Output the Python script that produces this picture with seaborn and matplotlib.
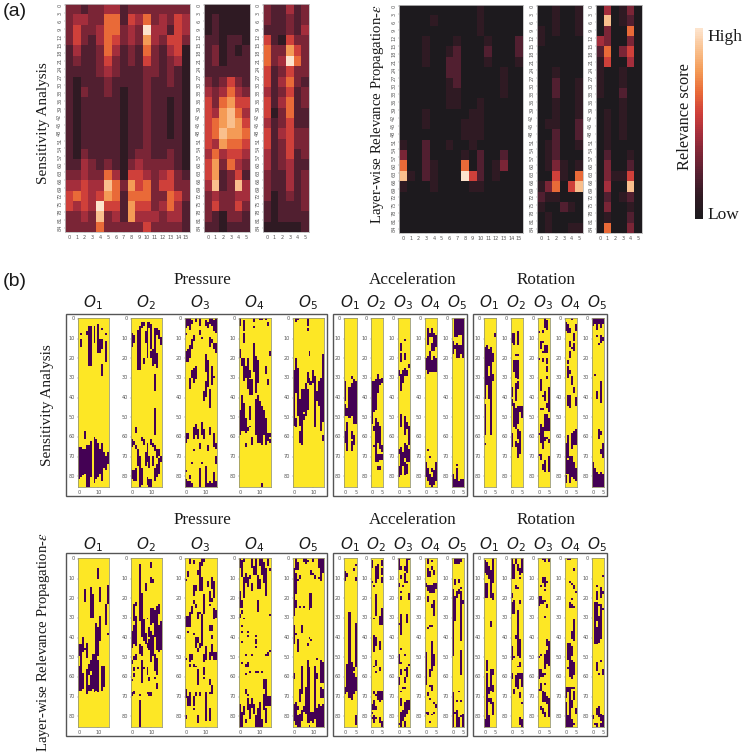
import numpy as np
import matplotlib
matplotlib.use('Agg')
import matplotlib.pyplot as plt
import seaborn as sns
from matplotlib.colors import LinearSegmentedColormap, ListedColormap
from matplotlib.patches import Rectangle

# (a) relevance heatmaps, one string per 4 sensor rows, one digit per channel (0 = low, 9 = high)
sa_pressure = ["3323344233333333", "3443366254634354", "3533466343944254", "3532465343743553",
               "2422364232632451", "2322353232532341", "2222343222332321", "2122232222322321",
               "2132232122322221", "2122222122322121", "2122222122322121", "2122222122322121",
               "2122222122322121", "2122222122322221", "2132222123322321", "2243232134333321",
               "3343364155434532", "4454486375635533", "5654576266633653", "5454955275534642",
               "3343834274443442", "3333633333533332"]
sa_accel = ["111111", "121111", "121111", "221221", "231212", "231222", "222222", "323532",
            "434643", "536755", "547864", "567875", "568776", "547665", "464554", "573643",
            "572352", "482384", "343344", "353353", "321332", "221222"]
sa_rotation = ["322423", "322323", "222324", "521533", "633753", "634963", "523533", "524632",
               "423523", "524623", "513622", "423522", "524533", "523533", "423523", "423422",
               "322423", "322423", "312323", "212223", "212222", "111112"]
lrp_pressure = ["0000000000100000", "0000100000100000", "0000000000100000", "0001000100010002",
                "0001001200020002", "0001002200010001", "0000002200000100", "0000001200000100",
                "0000001100000100", "0000001100100000", "0001000001100000", "0001000011100000",
                "0000000011100000", "1002001001000000", "3002000010200200", "6002100060201300",
                "8102100095201000", "1000100001100000", "0000000000000000", "0000000000000000",
                "0000000000000000", "0000000000000000"]
lrp_accel = ["001001", "001001", "101001", "100000", "000000", "000000", "001000", "002001",
             "002001", "001001", "001001", "011002", "002002", "012001", "012000", "013101",
             "005106", "136058", "211000", "100210", "010000", "010011"]
lrp_rotation = ["040130", "080120", "030060", "430030", "260350", "150040", "100100", "100100",
                "100200", "000100", "010100", "010100", "010100", "010000", "020010", "030020",
                "031150", "040080", "020120", "030010", "010020", "060030"]

# (b) binarised relevance, purple runs as (channel, first row, last row)
sa_p1 = [(1, 11, 14), (1, 8, 8), (4, 7, 8), (5, 4, 24), (6, 4, 24), (8, 4, 12), (10, 3, 17), (11, 11, 17), (12, 11, 15),
         (12, 5, 5), (12, 24, 29), (14, 8, 8), (14, 12, 22), (0, 67, 83), (1, 67, 82), (2, 68, 81), (3, 59, 62), (3, 68, 80),
         (4, 66, 87), (5, 66, 87), (6, 64, 82), (8, 62, 85), (9, 63, 83), (10, 65, 82), (11, 68, 80), (12, 65, 84),
         (13, 70, 77), (14, 72, 78), (15, 70, 75)]
sa_p2 = [(0, 8, 14), (1, 9, 12), (3, 6, 26), (4, 4, 26), (5, 2, 4), (6, 2, 3), (6, 21, 23), (7, 7, 12), (8, 2, 20), (9, 2, 4),
         (10, 3, 15), (10, 17, 20), (11, 16, 24), (12, 5, 23), (13, 5, 8), (13, 18, 25), (14, 6, 10), (15, 10, 13), (12, 29, 37),
         (12, 47, 60), (2, 57, 59), (0, 63, 66), (1, 64, 65), (2, 66, 67), (0, 79, 83), (1, 79, 84), (2, 78, 84), (3, 68, 76),
         (4, 72, 87), (5, 62, 63), (5, 78, 86), (6, 63, 65), (7, 70, 76), (8, 65, 74), (8, 83, 86), (9, 72, 77), (9, 84, 87),
         (10, 63, 65), (10, 84, 87), (11, 65, 66), (11, 72, 76), (12, 66, 68), (12, 78, 84), (13, 68, 72), (13, 76, 82),
         (14, 68, 71), (14, 73, 80), (15, 72, 74)]
sa_p3 = [(0, 0, 4), (1, 0, 3), (2, 0, 5), (3, 1, 2), (5, 0, 1), (7, 0, 3), (10, 1, 3), (11, 2, 4), (12, 0, 2), (13, 0, 3), (14, 1, 6),
         (15, 0, 7), (7, 6, 8), (0, 8, 8), (4, 9, 11), (3, 11, 15), (2, 14, 20), (1, 16, 22), (0, 17, 22), (8, 10, 10), (12, 10, 14),
         (13, 11, 12), (15, 13, 17), (14, 13, 15), (10, 19, 27), (11, 22, 28), (13, 25, 34), (14, 30, 30), (5, 25, 31), (4, 26, 33),
         (3, 27, 30), (2, 31, 36), (11, 27, 35), (10, 33, 40), (9, 38, 42), (12, 37, 46), (0, 60, 64), (1, 60, 62), (4, 57, 62),
         (5, 55, 60), (6, 58, 62), (8, 54, 60), (9, 58, 62), (12, 57, 60), (14, 60, 66), (4, 68, 68), (7, 65, 67), (11, 66, 68),
         (15, 65, 67), (15, 72, 75), (3, 75, 75), (8, 75, 75), (2, 82, 83), (0, 84, 87), (1, 85, 87), (2, 85, 87), (3, 86, 87),
         (7, 78, 87), (10, 77, 87), (11, 86, 87), (12, 85, 87), (13, 86, 87), (14, 80, 87), (15, 85, 87), (0, 79, 79)]
sa_p4 = [(0, 0, 3), (2, 1, 6), (7, 0, 1), (10, 0, 0), (11, 0, 0), (13, 0, 0), (14, 2, 3), (7, 4, 4), (2, 8, 12), (0, 16, 20), (1, 21, 24),
         (7, 13, 27), (8, 20, 38), (9, 22, 33), (13, 25, 28), (15, 17, 19), (4, 21, 32), (5, 27, 30), (5, 32, 39), (6, 32, 39), (3, 25, 30),
         (2, 21, 32), (1, 40, 58), (2, 44, 58), (4, 33, 36), (0, 48, 60), (5, 46, 52), (3, 52, 59), (8, 42, 60), (9, 40, 64), (10, 43, 64),
         (11, 46, 65), (12, 48, 60), (13, 52, 65), (14, 60, 62), (15, 60, 61), (15, 63, 64), (14, 63, 63), (3, 65, 66), (6, 62, 65),
         (11, 86, 87), (14, 32, 34), (4, 57, 58), (5, 56, 56)]
sa_p5 = [(1, 0, 1), (2, 0, 0), (7, 0, 1), (7, 2, 3), (7, 5, 6), (8, 17, 19), (0, 27, 55), (1, 21, 38), (2, 26, 50), (3, 42, 55), (4, 37, 60),
         (5, 37, 48), (6, 34, 50), (7, 28, 33), (7, 37, 47), (8, 31, 34), (9, 33, 34), (10, 27, 33), (11, 30, 56), (12, 38, 42), (13, 33, 45),
         (14, 31, 53), (15, 19, 53), (15, 61, 63), (3, 59, 64), (3, 52, 54), (4, 56, 65), (1, 52, 56), (5, 50, 52), (14, 53, 58)]
sa_a1 = [(0, 33, 42), (0, 45, 50), (0, 59, 64), (1, 47, 50), (1, 54, 68), (2, 36, 51), (3, 30, 31), (3, 34, 50), (3, 59, 62), (3, 64, 68),
         (4, 32, 54), (4, 61, 65), (5, 33, 54)]
sa_a2 = [(0, 33, 54), (1, 33, 48), (2, 32, 47), (3, 29, 38), (4, 32, 34), (5, 31, 33), (2, 52, 74), (3, 54, 64), (4, 56, 67), (1, 56, 58),
         (3, 71, 74), (4, 71, 73), (5, 66, 69), (5, 71, 73), (1, 66, 66), (3, 77, 78), (4, 77, 78)]
sa_a3 = [(1, 13, 16), (1, 18, 22), (3, 11, 11), (3, 18, 21), (5, 24, 25), (0, 27, 29), (1, 29, 37), (2, 27, 33), (3, 26, 29), (4, 27, 29),
         (1, 50, 56), (3, 51, 60), (4, 54, 57), (5, 56, 65), (0, 68, 70), (0, 77, 82), (1, 67, 81), (2, 70, 76), (3, 65, 72), (4, 66, 74),
         (5, 68, 74), (4, 76, 80), (3, 75, 81)]
sa_a4 = [(0, 21, 26), (1, 5, 13), (1, 20, 28), (2, 8, 9), (2, 17, 27), (3, 5, 9), (3, 13, 16), (3, 22, 27), (4, 8, 16), (4, 20, 27), (5, 9, 14),
         (5, 21, 27), (1, 68, 68), (2, 72, 72), (0, 75, 82), (1, 78, 84), (2, 81, 86), (3, 78, 79), (3, 83, 87), (4, 79, 86), (5, 75, 84)]
sa_a5 = [(0, 12, 18), (1, 0, 9), (2, 0, 9), (3, 0, 8), (4, 0, 8), (4, 14, 18), (5, 0, 20), (2, 13, 20), (3, 14, 20), (1, 14, 15), (0, 81, 87),
         (1, 84, 87), (2, 78, 87), (3, 85, 87), (4, 84, 87), (5, 84, 87), (2, 76, 76)]
sa_r1 = [(0, 15, 41), (0, 45, 60), (0, 65, 65), (1, 14, 34), (2, 16, 24), (2, 30, 41), (3, 15, 34), (3, 35, 60), (4, 18, 22), (4, 29, 32), (5, 8, 9)]
sa_r2 = [(0, 8, 12), (1, 8, 13), (3, 7, 13), (3, 22, 31), (2, 19, 19), (3, 19, 19), (3, 33, 36), (0, 36, 40), (1, 22, 27), (2, 22, 30), (2, 34, 42),
         (0, 42, 45), (1, 44, 56), (2, 47, 57), (3, 46, 54), (4, 46, 48), (5, 46, 51), (4, 59, 70), (3, 58, 62), (0, 60, 66), (3, 65, 72), (2, 64, 66)]
sa_r3 = [(3, 0, 4), (4, 1, 5), (0, 7, 7), (2, 6, 7), (1, 12, 15), (2, 12, 12), (3, 14, 17), (4, 14, 17), (2, 17, 17), (0, 21, 21), (4, 21, 23),
         (2, 21, 22), (4, 25, 27), (4, 30, 31), (1, 32, 37), (5, 36, 48), (3, 38, 42), (2, 40, 40), (4, 44, 46), (2, 47, 47), (1, 47, 47), (3, 50, 58),
         (4, 50, 58), (5, 52, 58), (1, 55, 64), (2, 57, 67), (3, 62, 63), (0, 60, 60), (4, 62, 62), (5, 63, 64), (5, 72, 79), (1, 71, 73), (3, 74, 79),
         (2, 76, 78), (0, 71, 71)]
sa_r4 = [(3, 0, 0), (0, 2, 6), (1, 3, 7), (2, 5, 7), (5, 3, 6), (4, 8, 11), (2, 12, 14), (4, 13, 16), (3, 15, 15), (2, 17, 20), (1, 22, 23), (1, 25, 30),
         (2, 27, 28), (3, 30, 34), (4, 36, 38), (2, 40, 46), (5, 41, 45), (1, 40, 45), (0, 65, 80), (1, 61, 72), (3, 60, 67), (4, 59, 65), (5, 58, 65),
         (2, 72, 82), (3, 72, 82), (4, 75, 83), (5, 78, 84), (1, 74, 80), (0, 82, 85), (2, 83, 85)]
sa_r5 = [(0, 0, 3), (1, 0, 2), (2, 0, 5), (3, 0, 2), (4, 0, 4), (5, 0, 2), (2, 9, 9), (4, 9, 12), (5, 10, 11), (3, 13, 13), (1, 29, 29), (4, 33, 43),
         (2, 38, 41), (3, 58, 62), (4, 59, 60), (5, 65, 72), (4, 68, 70), (0, 75, 87), (1, 78, 87), (2, 80, 87), (3, 81, 87), (4, 80, 87), (5, 81, 87)]

lrp_p1 = [(10, 5, 10), (3, 16, 22), (6, 15, 30), (7, 19, 30), (11, 15, 22), (14, 24, 34), (15, 14, 23), (9, 34, 60), (10, 36, 50), (11, 30, 42), (2, 41, 48),
          (1, 45, 52), (0, 45, 50), (4, 44, 51), (15, 39, 39), (3, 47, 47), (0, 56, 68), (1, 53, 68), (2, 60, 67), (4, 58, 70), (6, 53, 58), (7, 50, 67),
          (8, 50, 69), (9, 48, 68), (10, 53, 69), (12, 56, 68), (13, 56, 66), (5, 55, 60), (6, 61, 68), (5, 66, 68)]
lrp_p2 = [(4, 3, 20), (10, 2, 4), (10, 10, 12), (11, 11, 12), (7, 13, 16), (5, 18, 29), (4, 21, 32), (2, 23, 24), (1, 24, 32), (2, 30, 45), (1, 35, 44), (0, 38, 46),
          (5, 29, 40), (6, 32, 42), (7, 39, 44), (8, 31, 31), (9, 42, 47), (4, 45, 49), (5, 46, 50), (10, 26, 34), (11, 26, 33), (12, 27, 40), (13, 25, 47),
          (14, 24, 28), (15, 33, 34), (14, 35, 48), (15, 35, 47), (11, 40, 50), (10, 38, 53), (9, 36, 40), (8, 44, 46), (12, 50, 58), (13, 52, 60), (0, 53, 54),
          (1, 51, 52), (2, 50, 52), (5, 53, 64), (3, 57, 57), (6, 57, 57), (1, 57, 58), (1, 60, 61), (0, 63, 63), (8, 57, 60), (9, 62, 63), (12, 62, 62),
          (0, 70, 71), (1, 69, 70), (4, 71, 71), (8, 70, 70), (9, 70, 71), (10, 70, 71), (13, 65, 67), (4, 74, 87)]
lrp_p3 = [(2, 0, 2), (4, 1, 2), (8, 0, 3), (7, 2, 16), (9, 0, 1), (1, 7, 9), (0, 11, 11), (6, 6, 8), (8, 10, 16), (4, 14, 19), (5, 14, 16), (9, 19, 28), (13, 10, 15),
          (14, 12, 20), (11, 12, 14), (12, 17, 22), (13, 21, 22), (12, 24, 24), (4, 22, 23), (5, 24, 25), (3, 25, 28), (2, 28, 35), (1, 30, 35), (0, 30, 35),
          (8, 29, 45), (6, 28, 31), (7, 28, 28), (14, 26, 31), (15, 27, 30), (12, 35, 37), (13, 35, 37), (1, 38, 38), (4, 39, 39), (5, 41, 46), (6, 41, 43), (7, 44, 46),
          (13, 40, 41), (10, 46, 52), (13, 45, 50), (12, 49, 52), (14, 49, 52), (15, 49, 52), (2, 50, 53), (3, 50, 52), (9, 50, 53), (6, 47, 48), (0, 52, 52), (2, 55, 56),
          (4, 55, 56), (5, 56, 56), (6, 58, 65), (9, 57, 60), (12, 63, 65), (9, 62, 62), (0, 68, 72), (1, 72, 76), (2, 70, 76), (4, 72, 76), (5, 70, 71), (7, 70, 71),
          (10, 70, 84), (13, 66, 70), (12, 70, 70), (0, 82, 83), (4, 78, 78), (6, 82, 85), (12, 78, 84)]
lrp_p4 = [(0, 0, 4), (1, 1, 9), (2, 0, 1), (2, 10, 20), (0, 17, 25), (3, 8, 12), (4, 10, 14), (5, 9, 10), (6, 0, 4), (6, 13, 16), (7, 4, 8), (8, 0, 8), (9, 9, 15), (10, 0, 3),
          (10, 11, 15), (11, 0, 8), (12, 2, 12), (13, 5, 19), (14, 0, 3), (15, 5, 6), (9, 22, 27), (1, 22, 25), (1, 27, 28), (0, 29, 30), (2, 31, 31), (1, 35, 35), (1, 38, 38),
          (4, 38, 38), (4, 40, 40), (8, 40, 40), (8, 42, 44), (1, 43, 43), (15, 29, 29), (8, 46, 46), (3, 50, 50), (6, 50, 50), (14, 49, 50), (15, 48, 48), (13, 50, 50),
          (1, 54, 54), (4, 54, 56), (3, 55, 56), (3, 60, 60), (5, 59, 59), (8, 59, 59), (9, 59, 59), (11, 59, 59), (12, 63, 67), (13, 63, 70), (3, 68, 70), (4, 71, 71),
          (0, 76, 87), (1, 80, 87), (2, 77, 81), (3, 84, 85), (4, 73, 78), (5, 76, 83), (6, 73, 77), (7, 76, 80), (8, 82, 87), (9, 78, 87), (10, 75, 87), (11, 84, 87),
          (12, 71, 78), (13, 71, 76), (13, 78, 85), (14, 72, 76), (15, 72, 76)]
lrp_p5 = [(0, 5, 29), (1, 0, 5), (2, 2, 5), (5, 0, 1), (6, 0, 2), (7, 1, 1), (10, 0, 1), (13, 0, 4), (14, 0, 8), (15, 0, 7), (9, 6, 8), (10, 8, 8), (11, 9, 10), (13, 10, 10),
          (14, 9, 11), (3, 9, 10), (1, 8, 18), (2, 11, 11), (8, 18, 26), (9, 18, 25), (1, 22, 25), (3, 25, 25), (5, 25, 25), (0, 35, 44), (4, 35, 38), (2, 42, 48), (8, 41, 41),
          (7, 44, 45), (9, 42, 42), (1, 39, 39), (12, 52, 52), (0, 60, 62), (4, 56, 70), (6, 67, 80), (7, 53, 83), (8, 57, 85), (11, 56, 83), (12, 60, 62), (14, 53, 64), (15, 54, 64),
          (14, 67, 72), (15, 68, 72), (14, 77, 87), (15, 76, 87), (3, 68, 74), (0, 76, 84), (1, 75, 86), (2, 77, 78), (2, 82, 87), (3, 81, 87), (4, 79, 84), (5, 77, 79), (7, 84, 85),
          (9, 80, 84), (10, 80, 85), (12, 78, 87), (13, 76, 87), (8, 87, 87)]
lrp_a1 = [(0, 7, 11), (0, 67, 70), (1, 8, 9), (1, 55, 69), (5, 10, 11), (5, 3, 3), (4, 5, 6), (2, 28, 72), (3, 54, 73), (5, 34, 56), (4, 57, 58), (4, 60, 70), (5, 62, 68), (5, 82, 86)]
lrp_a2 = [(0, 12, 12), (1, 14, 14), (2, 4, 12), (3, 3, 10), (5, 1, 3), (5, 5, 8), (5, 10, 12), (0, 1, 4), (2, 19, 29), (1, 31, 31), (5, 26, 34), (4, 30, 34), (1, 40, 48), (2, 41, 45),
          (4, 43, 47), (2, 53, 55), (4, 57, 58), (1, 56, 56), (2, 59, 59), (3, 69, 73), (4, 69, 73), (5, 69, 73), (1, 69, 70), (2, 71, 71), (1, 74, 78), (0, 76, 78), (2, 77, 78), (4, 74, 74),
          (0, 80, 80), (1, 82, 85), (2, 83, 83), (4, 83, 85), (5, 85, 87), (0, 83, 83)]
lrp_a3 = [(0, 0, 5), (1, 4, 5), (3, 4, 6), (4, 0, 7), (5, 0, 0), (1, 9, 10), (3, 8, 12), (4, 12, 12), (0, 13, 14), (2, 14, 14), (1, 17, 17), (1, 20, 21), (5, 18, 21), (1, 29, 39),
          (4, 29, 33), (0, 34, 34), (1, 47, 47), (0, 50, 54), (3, 50, 50), (1, 54, 54), (5, 55, 55), (1, 58, 60), (3, 58, 58), (4, 57, 61), (3, 62, 64), (0, 62, 65), (2, 67, 67),
          (3, 67, 67), (1, 69, 69), (1, 73, 76), (3, 75, 82), (4, 74, 80), (5, 74, 78), (2, 79, 84), (1, 80, 87), (0, 86, 86), (3, 85, 87)]
lrp_a4 = [(1, 0, 2), (3, 1, 1), (1, 5, 9), (2, 7, 9), (3, 4, 5), (4, 6, 8), (0, 13, 14), (1, 14, 16), (2, 14, 17), (3, 14, 17), (4, 13, 17), (5, 13, 15), (1, 20, 22), (4, 22, 29),
          (3, 24, 25), (2, 35, 35), (1, 36, 36), (3, 35, 35), (0, 49, 65), (3, 43, 58), (2, 58, 61), (4, 50, 55), (2, 66, 66), (3, 66, 68), (1, 70, 71), (2, 73, 73), (4, 75, 75), (5, 76, 77),
          (0, 80, 80), (1, 80, 81), (3, 81, 81), (4, 80, 80), (2, 85, 85)]
lrp_a5 = [(1, 0, 2), (2, 0, 2), (3, 0, 2), (4, 0, 1), (1, 11, 13), (3, 11, 12), (4, 15, 15), (2, 17, 20), (0, 16, 50), (3, 16, 18), (1, 20, 32), (4, 17, 42), (5, 22, 23), (0, 70, 87),
          (4, 48, 60), (3, 69, 69), (2, 74, 74), (4, 74, 74), (2, 79, 87), (3, 83, 87), (5, 81, 87), (4, 82, 82), (1, 80, 80)]
lrp_r1 = [(0, 1, 7), (1, 2, 8), (0, 13, 20), (1, 13, 20), (2, 4, 10), (3, 6, 20), (4, 0, 12), (4, 18, 21), (3, 33, 35), (1, 53, 58), (1, 60, 87), (2, 67, 70), (2, 82, 87), (3, 58, 68),
          (4, 58, 60), (4, 66, 69), (2, 73, 74), (3, 73, 75), (4, 75, 81), (0, 84, 87)]
lrp_r2 = [(0, 0, 10), (1, 3, 10), (2, 0, 2), (3, 3, 6), (4, 5, 8), (5, 0, 7), (4, 10, 10), (3, 15, 15), (2, 14, 15), (0, 18, 20), (0, 23, 28), (1, 22, 28), (4, 22, 23), (3, 27, 50),
          (2, 40, 41), (4, 42, 51), (0, 46, 52), (1, 51, 51), (4, 54, 56), (3, 56, 56), (2, 61, 66), (3, 60, 67), (4, 60, 62), (5, 60, 66), (1, 68, 70), (4, 70, 72), (5, 75, 75), (0, 60, 62),
          (4, 83, 86), (5, 84, 87)]
lrp_r3 = [(2, 0, 0), (3, 0, 1), (5, 0, 1), (2, 10, 12), (3, 10, 14), (4, 12, 12), (3, 16, 16), (1, 14, 14), (0, 20, 24), (1, 20, 23), (2, 22, 23), (3, 22, 22), (4, 24, 25), (3, 30, 30),
          (4, 42, 45), (5, 43, 55), (4, 48, 54), (3, 50, 57), (0, 51, 51), (1, 50, 50), (0, 58, 62), (1, 58, 61), (2, 60, 61), (3, 60, 60), (1, 65, 68), (3, 65, 65), (2, 69, 74), (3, 70, 74),
          (4, 72, 75), (5, 73, 82), (3, 80, 82), (0, 68, 68), (1, 77, 78), (2, 78, 80)]
lrp_r4 = [(1, 0, 0), (2, 0, 0), (4, 5, 6), (2, 12, 12), (3, 13, 13), (4, 14, 15), (5, 17, 17), (3, 21, 21), (2, 23, 25), (3, 24, 25), (4, 25, 25), (4, 32, 42), (3, 38, 41), (1, 44, 52),
          (2, 44, 61), (3, 46, 50), (1, 57, 57), (3, 53, 62), (4, 54, 60), (0, 67, 72), (1, 67, 69), (2, 67, 87), (3, 67, 67), (4, 67, 67), (0, 75, 87), (1, 82, 87), (3, 74, 77), (4, 69, 73),
          (5, 78, 80), (3, 84, 87), (4, 86, 86)]
lrp_r5 = [(5, 9, 9), (2, 14, 14), (4, 15, 20), (2, 17, 21), (5, 17, 18), (1, 23, 44), (2, 23, 32), (3, 30, 43), (2, 36, 44), (4, 24, 41), (3, 24, 24), (5, 26, 26), (2, 54, 58), (3, 60, 60),
          (4, 53, 53), (5, 58, 60), (0, 82, 83), (2, 78, 81), (3, 77, 82), (4, 81, 84), (5, 82, 87), (2, 86, 87), (4, 86, 87), (1, 86, 86)]

y_ticks_a = list(range(0, 85, 3))
y_ticks_b = list(range(0, 81, 10))
W, H = 742, 756
SERIF = 'Liberation Serif'
rel_cmap = LinearSegmentedColormap.from_list(
    'rel', ['#1d1a1e', '#2f1a23', '#521f30', '#7a2536', '#a52e3c', '#cf3f3a', '#e96a38', '#f49a55', '#f9bf8c', '#fde4cd'])
bin_cmap = ListedColormap(['#fde725', '#440154'])

sns.set_theme(style='white')
fig = plt.figure(figsize=(W / 100, H / 100), dpi=100)


def pixel_axes(x0, y0, x1, y1):
    return fig.add_axes([x0 / W, 1 - y1 / H, (x1 - x0) / W, (y1 - y0) / H])


def label(x, y, txt, size=12.5, rot=0, ha='center', font=SERIF, math='stix'):
    fig.text(x / W, 1 - y / H, txt, fontsize=size, rotation=rot, ha=ha, va='center',
             family=font, color='#1a1a1a', math_fontfamily=math)


def style_ticks(ax, xt, yt, rot, color):
    # measured spacing of the ticks is a bit wider than one cell of the grid
    ax.set_yticks((np.array(yt) + 0.5) * 88 / 86)
    ax.set_yticklabels(yt, rotation=rot, va='center', fontsize=3.6, color='#555555')
    ax.set_xticks(np.array(xt) + 0.5)
    ax.set_xticklabels(xt, rotation=0, fontsize=3.6, color='#555555')
    ax.tick_params(length=1, width=0.3, pad=1, color='#777777', left=True, bottom=True)
    for s in ax.spines.values():
        s.set_visible(True)
        s.set_linewidth(0.6)
        s.set_color(color)


def relevance_panel(rows, box):
    ax = pixel_axes(*box)
    data = np.repeat(np.array([[int(c) for c in r] for r in rows]), 4, axis=0)
    sns.heatmap(data, cmap=rel_cmap, vmin=0, vmax=9, cbar=False, ax=ax)
    style_ticks(ax, list(range(data.shape[1])), y_ticks_a, 90, '#bbbbbb')


def binary_panel(runs, n_cols, box, x_step):
    ax = pixel_axes(*box)
    mask = np.zeros((88, n_cols), dtype=int)
    for col, r0, r1 in runs:
        mask[r0:r1 + 1, col] = 1
    sns.heatmap(mask, cmap=bin_cmap, vmin=0, vmax=1, cbar=False, ax=ax)
    style_ticks(ax, list(range(0, n_cols, x_step))[:2], y_ticks_b, 0, '#9a9a70')


# (a) heatmaps
relevance_panel(sa_pressure, (65, 4, 190, 232))
relevance_panel(sa_accel, (204, 4, 250, 232))
relevance_panel(sa_rotation, (263, 4, 309, 232))
relevance_panel(lrp_pressure, (399, 5, 523, 233))
relevance_panel(lrp_accel, (537, 5, 583, 233))
relevance_panel(lrp_rotation, (596, 5, 642, 233))

# colour bar
cax = pixel_axes(695, 28, 703, 219)
sns.heatmap(np.linspace(9, 0, 100).reshape(-1, 1), cmap=rel_cmap, vmin=0, vmax=9, cbar=False,
            ax=cax, xticklabels=False, yticklabels=False)
label(707, 37, 'High', 12.5, ha='left')
label(707, 215, 'Low', 12.5, ha='left')
label(685, 117, 'Relevance score', 11.8, rot=90)

label(44, 123, 'Sensitivity Analysis', 11, rot=90)
label(377, 114, 'Layer-wise Relevance Propagation-$\\epsilon$', 10.6, rot=90)
label(3, 12, '(a)', 14, ha='left', font='Liberation Sans')
label(3, 282, '(b)', 14, ha='left', font='Liberation Sans')

# (b) binary panels, frames and headers
p_boxes = [(78, 109), (131, 162), (185, 217), (239, 271), (293, 324)]
a_boxes = [(344, 357), (371, 383), (398, 410), (425, 437), (452, 464)]
r_boxes = [(484, 496), (511, 523), (538, 550), (565, 577), (592, 604)]
sa_panels = [[sa_p1, sa_p2, sa_p3, sa_p4, sa_p5], [sa_a1, sa_a2, sa_a3, sa_a4, sa_a5], [sa_r1, sa_r2, sa_r3, sa_r4, sa_r5]]
lrp_panels = [[lrp_p1, lrp_p2, lrp_p3, lrp_p4, lrp_p5], [lrp_a1, lrp_a2, lrp_a3, lrp_a4, lrp_a5], [lrp_r1, lrp_r2, lrp_r3, lrp_r4, lrp_r5]]
groups = [('Pressure', p_boxes, 16, 10, 203, (66, 327)),
          ('Acceleration', a_boxes, 6, 5, 413, (333, 467)),
          ('Rotation', r_boxes, 6, 5, 546, (473, 607))]
rows_b = [(sa_panels, 318, 487, 314, 496, 280, 303), (lrp_panels, 558, 727, 553, 736, 520, 545)]

for panels, top, bottom, f_top, f_bot, head_y, o_y in rows_b:
    for (name, boxes, n_cols, step, head_x, frame), group in zip(groups, panels):
        fig.add_artist(Rectangle((frame[0] / W, 1 - f_bot / H), (frame[1] - frame[0]) / W, (f_bot - f_top) / H,
                                 fill=False, edgecolor='#555555', linewidth=1.0, transform=fig.transFigure))
        label(head_x, head_y, name, 12.3)
        for i, (box, runs) in enumerate(zip(boxes, group)):
            binary_panel(runs, n_cols, (box[0], top, box[1], bottom), step)
            label((box[0] + box[1]) / 2 - 1, o_y, f'$O_{i + 1}$', 11, font='DejaVu Sans', math='dejavusans')

label(48, 405, 'Sensitivity Analysis', 11, rot=90)
label(44, 642, 'Layer-wise Relevance Propagation-$\\epsilon$', 10.6, rot=90)

plt.savefig('out.png', dpi=100)
